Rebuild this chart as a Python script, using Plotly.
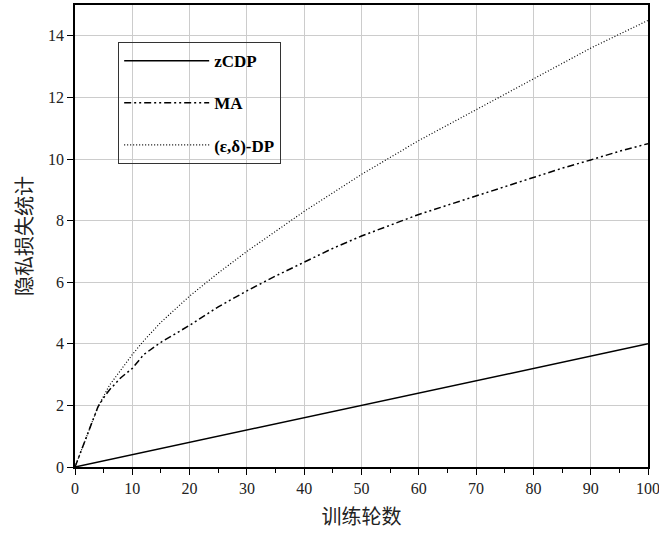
import plotly.graph_objects as go

# Data
epochs_zcdp = [0, 10, 20, 30, 40, 50, 60, 70, 80, 90, 100]
zcdp = [0, 0.4, 0.8, 1.2, 1.6, 2.0, 2.4, 2.8, 3.2, 3.6, 4.0]

epochs = [0, 1, 2, 3, 4, 5, 6, 8, 10, 12, 15, 20, 25, 30, 35, 40, 45, 50,
          55, 60, 65, 70, 75, 80, 85, 90, 95, 100]
ma = [0, 0.5, 1.0, 1.45, 1.95, 2.25, 2.5, 2.9, 3.2, 3.65, 4.05, 4.6, 5.2,
      5.72, 6.2, 6.65, 7.1, 7.5, 7.85, 8.2, 8.5, 8.8, 9.1, 9.4, 9.7, 9.97,
      10.25, 10.5]
dp = [0, 0.5, 1.0, 1.45, 1.95, 2.3, 2.65, 3.15, 3.65, 4.1, 4.7, 5.55, 6.3,
      7.0, 7.65, 8.3, 8.9, 9.5, 10.05, 10.6, 11.1, 11.6, 12.1, 12.6, 13.1,
      13.6, 14.05, 14.5]

names = ["zCDP", "MA", "(ε,δ)-DP"]
x_ticks = [0, 10, 20, 30, 40, 50, 60, 70, 80, 90, 100]
y_ticks = [0, 2, 4, 6, 8, 10, 12, 14]

fig = go.Figure()
fig.add_trace(go.Scatter(x=epochs_zcdp, y=zcdp, mode="lines", name=names[0],
                         legendgroup="a",
                         line=dict(color="black", width=1.5, dash="solid")))
fig.add_trace(go.Scatter(x=epochs, y=ma, mode="lines", name=names[1],
                         legendgroup="b",
                         line=dict(color="black", width=1.5,
                                   dash="7px,3px,2px,3px,2px,3px")))
fig.add_trace(go.Scatter(x=epochs, y=dp, mode="lines", name=names[2],
                         legendgroup="c",
                         line=dict(color="black", width=1.2, dash="1px,2px")))

serif = "Liberation Serif, Times New Roman, serif"
tick_font = dict(family=serif, size=16, color="#222222")
fig.update_layout(
    width=659, height=533,
    margin=dict(l=75, r=11, t=5, b=66),
    plot_bgcolor="white", paper_bgcolor="white",
    showlegend=True,
    legend=dict(x=0.075, y=0.92, xanchor="left", yanchor="top",
                bordercolor="#333333", borderwidth=1.2,
                bgcolor="rgba(0,0,0,0)",
                font=dict(family=serif, size=17, color="black",
                          weight="bold"),
                itemwidth=85, tracegroupgap=17, traceorder="grouped"),
    xaxis=dict(range=[0, 100], tickvals=x_ticks, ticktext=[str(v) for v in x_ticks],
               showgrid=True, gridcolor="#cccccc", gridwidth=1,
               showline=True, linecolor="black", linewidth=1.5, mirror=True,
               ticks="outside", ticklen=6, tickwidth=1.2, tickcolor="black",
               minor=dict(tickvals=[5, 15, 25, 35, 45, 55, 65, 75, 85, 95],
                          ticks="outside", ticklen=4, tickcolor="black",
                          showgrid=False),
               zeroline=False, tickfont=tick_font, automargin=False,
               ticklabeloverflow="allow",
               title=dict(text="训练轮数", standoff=14,
                          font=dict(family="Noto Sans CJK SC", size=20,
                                    color="#222222"))),
    yaxis=dict(range=[0, 15], tickvals=y_ticks, ticktext=[str(v) for v in y_ticks],
               showgrid=True, gridcolor="#cccccc", gridwidth=1,
               showline=True, linecolor="black", linewidth=1.5, mirror=True,
               ticks="outside", ticklen=6, tickwidth=1.2, tickcolor="black",
               zeroline=False, tickfont=tick_font, automargin=False,
               ticklabeloverflow="allow",
               title=dict(text="隐私损失统计", standoff=10,
                          font=dict(family="Noto Sans CJK SC", size=20,
                                    color="#222222"))),
)

fig.write_html("out.html",
               config={"displayModeBar": False},
               post_script="document.body.style.margin='0';"
                           "document.body.style.overflow='hidden';")
